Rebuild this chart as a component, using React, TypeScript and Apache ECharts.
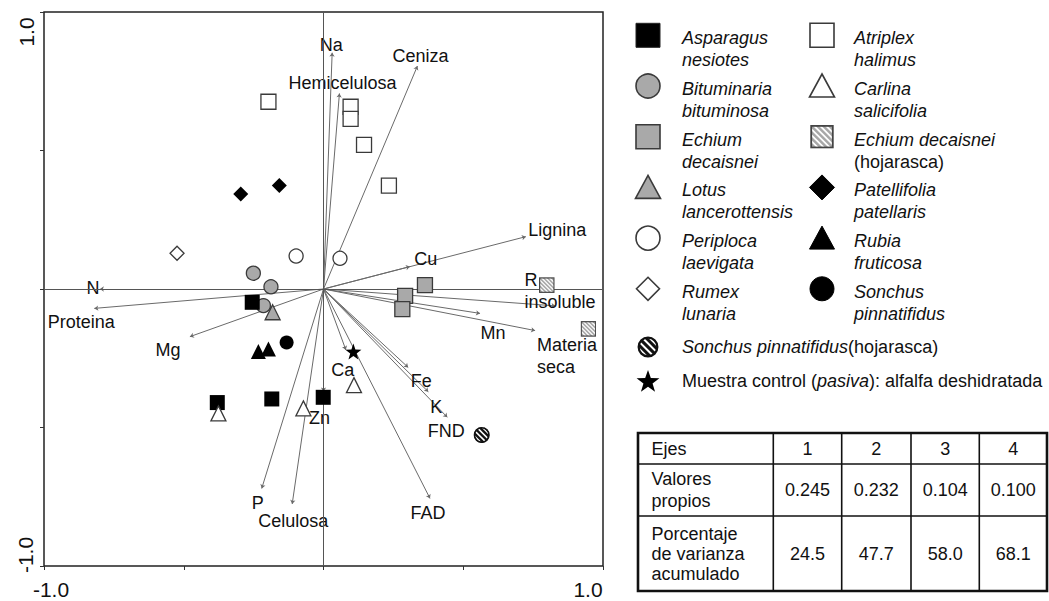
import React, { useEffect, useRef } from 'react';
import * as echarts from 'echarts';

const FONT = '"Liberation Sans", Arial, Helvetica, sans-serif';

// ---------- axis tick labels ----------
const xTickLabels = ['-1.0', '1.0'];
const yTickLabels = ['-1.0', '1.0'];

// ---------- environmental variables (arrow tips) ----------
const varNames = ['Na', 'Hemicelulosa', 'Ceniza', 'Lignina', 'Cu', 'R\ninsoluble', 'Mn', 'Materia\nseca', 'Fe', 'K', 'FND', 'FAD', 'Ca', 'Zn', 'P', 'Celulosa', 'Mg', 'Proteina', 'N'];
const varX = [0.031, 0.057, 0.336, 0.724, 0.309, 0.83, 0.56, 0.757, 0.303, 0.375, 0.443, 0.381, 0.08, 0.0, -0.221, -0.112, -0.478, -0.82, -0.8];
const varY = [0.853, 0.706, 0.805, 0.189, 0.081, -0.061, -0.088, -0.15, -0.283, -0.371, -0.463, -0.756, -0.22, -0.37, -0.72, -0.776, -0.172, -0.07, 0.0];

// ---------- samples (species scores) ----------
const asparagus = [[-0.255, -0.048], [-0.38, -0.41], [-0.185, -0.397], [-0.001, -0.391]];
const atriplex = [[-0.197, 0.676], [0.097, 0.658], [0.097, 0.614], [0.145, 0.52], [0.234, 0.373]];
const bituminaria = [[-0.251, 0.057], [-0.188, 0.008], [-0.215, -0.06]];
const carlina = [[-0.376, -0.449], [-0.072, -0.431], [0.109, -0.347]];
const echium = [[0.363, 0.014], [0.292, -0.025], [0.282, -0.073]];
const echiumHoj = [[0.799, 0.014], [0.948, -0.144]];
const lotus = [[-0.182, -0.084]];
const patellifolia = [[-0.296, 0.343], [-0.158, 0.374]];
const periploca = [[-0.098, 0.119], [0.059, 0.111]];
const rubia = [[-0.233, -0.226], [-0.197, -0.217]];
const rumex = [[-0.524, 0.129]];
const sonchus = [[-0.132, -0.193]];
const sonchusHoj = [[0.566, -0.527]];
const control = [[0.107, -0.226]];

// ---------- table ----------
const tableAxes = ['1', '2', '3', '4'];
const eigenvalues = ['0.245', '0.232', '0.104', '0.100'];
const cumVariance = ['24.5', '47.7', '58.0', '68.1'];

// ---------- layout of variable labels (pixel offsets from arrow tip) ----------
const labelLayout: Record<string, { off: number[]; align?: string }> = {
  'Na': { off: [-1, -8] },
  'Hemicelulosa': { off: [3, -10] },
  'Ceniza': { off: [3, -10] },
  'Lignina': { off: [31.5, -6.5] },
  'Cu': { off: [16, -8] },
  'R\ninsoluble': { off: [-31, -15], align: 'left' },
  'Mn': { off: [13, 20] },
  'Materia\nseca': { off: [2, 25], align: 'left' },
  'Fe': { off: [13, 14] },
  'K': { off: [8, 15] },
  'FND': { off: [-1, 14] },
  'FAD': { off: [-2, 15] },
  'Ca': { off: [-3, 20] },
  'Zn': { off: [-4, 27] },
  'P': { off: [-4, 15] },
  'Celulosa': { off: [1, 17] },
  'Mg': { off: [-22, 13] },
  'Proteina': { off: [-13, 14] },
  'N': { off: [-7, -1] },
};

function svgUrl(svg: string) {
  return 'data:image/svg+xml;charset=utf-8,' + encodeURIComponent(svg);
}

function hatchSquareSvg() {
  let lines = '';
  for (let k = -40; k <= 40; k += 10) lines += `<line x1="${k}" y1="0" x2="${k + 40}" y2="40"/>`;
  return `<svg xmlns="http://www.w3.org/2000/svg" width="40" height="40" viewBox="0 0 40 40"><defs><clipPath id="c"><rect x="2" y="2" width="36" height="36"/></clipPath></defs><rect x="2" y="2" width="36" height="36" fill="#fff"/><g clip-path="url(#c)" stroke="#a8a8a8" stroke-width="4">${lines}</g><rect x="2" y="2" width="36" height="36" fill="none" stroke="#444" stroke-width="3"/></svg>`;
}
function hatchCircleSvg() {
  let lines = '';
  for (let k = -26; k <= 26; k += 13) lines += `<line x1="${k}" y1="0" x2="${k + 40}" y2="40"/>`;
  return `<svg xmlns="http://www.w3.org/2000/svg" width="40" height="40" viewBox="0 0 40 40"><defs><clipPath id="c"><circle cx="20" cy="20" r="18"/></clipPath></defs><circle cx="20" cy="20" r="18" fill="#fff"/><g clip-path="url(#c)" stroke="#111" stroke-width="5.5">${lines}</g><circle cx="20" cy="20" r="17" fill="none" stroke="#111" stroke-width="4"/></svg>`;
}
const HATCH_SQ = svgUrl(hatchSquareSvg());
const HATCH_CI = svgUrl(hatchCircleSvg());

function starPts(cx: number, cy: number, R: number) {
  const r = R * 0.4;
  const pts: number[][] = [];
  for (let i = 0; i < 10; i++) {
    const a = -Math.PI / 2 + (i * Math.PI) / 5;
    const rr = i % 2 === 0 ? R : r;
    pts.push([cx + rr * Math.cos(a), cy + rr * Math.sin(a)]);
  }
  return pts;
}
const STAR_PATH = 'path://' + starPts(10, 10, 10).map((p, i) => (i === 0 ? 'M' : 'L') + p[0].toFixed(2) + ' ' + p[1].toFixed(2)).join(' ') + 'Z';

const GRAY = '#a9a9a9';
const EDGE = '#3a3a3a';

function species(name: string, data: number[][], symbol: string, color: string, border: string | null, size: number, z = 5) {
  return {
    type: 'scatter',
    name,
    data,
    symbol,
    symbolSize: size,
    silent: true,
    z,
    itemStyle: { color, borderColor: border || color, borderWidth: border ? 1.3 : 0, opacity: 1 },
  };
}

function legendSymbol(kind: string, cx: number, cy: number): any {
  const s = 12;
  switch (kind) {
    case 'sqBlack': return { type: 'rect', shape: { x: cx - s, y: cy - s, width: 2 * s, height: 2 * s }, style: { fill: '#000', stroke: '#222', lineWidth: 1 } };
    case 'sqWhite': return { type: 'rect', shape: { x: cx - s, y: cy - s, width: 2 * s, height: 2 * s }, style: { fill: '#fff', stroke: EDGE, lineWidth: 1.6 } };
    case 'sqGray': return { type: 'rect', shape: { x: cx - s, y: cy - s, width: 2 * s, height: 2 * s }, style: { fill: GRAY, stroke: EDGE, lineWidth: 1.6 } };
    case 'sqHatch': return { type: 'image', style: { image: HATCH_SQ, x: cx - s, y: cy - s, width: 2 * s, height: 2 * s } };
    case 'ciGray': return { type: 'circle', shape: { cx, cy, r: s }, style: { fill: GRAY, stroke: EDGE, lineWidth: 1.6 } };
    case 'ciWhite': return { type: 'circle', shape: { cx, cy, r: s }, style: { fill: '#fff', stroke: EDGE, lineWidth: 1.6 } };
    case 'ciBlack': return { type: 'circle', shape: { cx, cy, r: s }, style: { fill: '#000', stroke: '#000', lineWidth: 1 } };
    case 'ciHatch': return { type: 'image', style: { image: HATCH_CI, x: cx - 11, y: cy - 11, width: 22, height: 22 } };
    case 'trGray': return { type: 'polygon', shape: { points: [[cx, cy - 12], [cx + 12.5, cy + 11], [cx - 12.5, cy + 11]] }, style: { fill: GRAY, stroke: EDGE, lineWidth: 1.6 } };
    case 'trWhite': return { type: 'polygon', shape: { points: [[cx, cy - 12], [cx + 12.5, cy + 11], [cx - 12.5, cy + 11]] }, style: { fill: '#fff', stroke: EDGE, lineWidth: 1.6 } };
    case 'trBlack': return { type: 'polygon', shape: { points: [[cx, cy - 12], [cx + 12.5, cy + 11], [cx - 12.5, cy + 11]] }, style: { fill: '#000', stroke: '#000', lineWidth: 1 } };
    case 'diBlack': return { type: 'polygon', shape: { points: [[cx, cy - 12.5], [cx + 12.5, cy], [cx, cy + 12.5], [cx - 12.5, cy]] }, style: { fill: '#000', stroke: '#000', lineWidth: 1 } };
    case 'diWhite': return { type: 'polygon', shape: { points: [[cx, cy - 11.5], [cx + 11.5, cy], [cx, cy + 11.5], [cx - 11.5, cy]] }, style: { fill: '#fff', stroke: EDGE, lineWidth: 1.6 } };
    case 'star': return { type: 'polygon', shape: { points: starPts(cx, cy + 1, 12) }, style: { fill: '#000' } };
  }
  return { type: 'group' };
}

// legend entries (two columns)
const legendCol1 = [
  { sym: 'sqBlack', text: '{i|Asparagus}\n{i|nesiotes}' },
  { sym: 'ciGray', text: '{i|Bituminaria}\n{i|bituminosa}' },
  { sym: 'sqGray', text: '{i|Echium}\n{i|decaisnei}' },
  { sym: 'trGray', text: '{i|Lotus}\n{i|lancerottensis}' },
  { sym: 'ciWhite', text: '{i|Periploca}\n{i|laevigata}' },
  { sym: 'diWhite', text: '{i|Rumex}\n{i|lunaria}' },
];
const legendCol2 = [
  { sym: 'sqWhite', text: '{i|Atriplex}\n{i|halimus}' },
  { sym: 'trWhite', text: '{i|Carlina}\n{i|salicifolia}' },
  { sym: 'sqHatch', text: '{i|Echium decaisnei}\n{n|(hojarasca)}' },
  { sym: 'diBlack', text: '{i|Patellifolia}\n{i|patellaris}' },
  { sym: 'trBlack', text: '{i|Rubia}\n{i|fruticosa}' },
  { sym: 'ciBlack', text: '{i|Sonchus}\n{i|pinnatifidus}' },
];
const legendWide = [
  { sym: 'ciHatch', text: '{i|Sonchus pinnatifidus}{n|(hojarasca)}' },
  { sym: 'star', text: '{n|Muestra control (}{i|pasiva}{n|): alfalfa deshidratada}' },
];

const RICH = {
  i: { fontStyle: 'italic', fontSize: 18, fontFamily: FONT, fill: '#111', lineHeight: 22 },
  n: { fontStyle: 'normal', fontSize: 18, fontFamily: FONT, fill: '#111', lineHeight: 22 },
};

function buildGraphic() {
  const g: any[] = [];
  // axis end labels
  const tf = `21px ${FONT}`;
  g.push({ type: 'text', x: 51, y: 589, style: { text: xTickLabels[0], font: tf, fill: '#111', align: 'center', verticalAlign: 'middle' } });
  g.push({ type: 'text', x: 588, y: 589, style: { text: xTickLabels[1], font: tf, fill: '#111', align: 'center', verticalAlign: 'middle' } });
  g.push({ type: 'text', x: 25, y: 555, rotation: Math.PI / 2, style: { text: yTickLabels[0], font: tf, fill: '#111', align: 'center', verticalAlign: 'middle' } });
  g.push({ type: 'text', x: 26, y: 32, rotation: Math.PI / 2, style: { text: yTickLabels[1], font: tf, fill: '#111', align: 'center', verticalAlign: 'middle' } });

  // legend
  const cols = [{ list: legendCol1, sx: 648, tx: 682 }, { list: legendCol2, sx: 822, tx: 854 }];
  cols.forEach((c) => {
    c.list.forEach((e, i) => {
      const firstLine = 38.3 + 50.7 * i;
      g.push(legendSymbol(e.sym, c.sx, firstLine - 3));
      g.push({ type: 'text', x: c.tx, y: firstLine + 11, style: { text: e.text, rich: RICH, align: 'left', verticalAlign: 'middle', font: `18px ${FONT}`, fill: '#111' } });
    });
  });
  const wideY = [347, 381];
  legendWide.forEach((e, i) => {
    g.push(legendSymbol(e.sym, 648, wideY[i]));
    g.push({ type: 'text', x: 682, y: wideY[i], style: { text: e.text, rich: RICH, align: 'left', verticalAlign: 'middle', font: `18px ${FONT}`, fill: '#111' } });
  });

  // table
  const rowsY = [433, 464, 516, 591];
  const colsX = [638, 773.3, 841.7, 911, 979.3, 1047];
  for (let r = 1; r < rowsY.length - 1; r++) {
    g.push({ type: 'line', shape: { x1: colsX[0], y1: rowsY[r], x2: colsX[colsX.length - 1], y2: rowsY[r] }, style: { stroke: '#111', lineWidth: 1.6 } });
  }
  for (let c = 1; c < colsX.length - 1; c++) {
    g.push({ type: 'line', shape: { x1: colsX[c], y1: rowsY[0], x2: colsX[c], y2: rowsY[rowsY.length - 1] }, style: { stroke: '#111', lineWidth: 1.6 } });
  }
  g.push({ type: 'rect', shape: { x: colsX[0], y: rowsY[0], width: colsX[5] - colsX[0], height: rowsY[3] - rowsY[0] }, style: { fill: 'none', stroke: '#111', lineWidth: 2.6 } });
  const rowMid = [449, 490, 554];
  const rowHeads = ['Ejes', 'Valores\npropios', 'Porcentaje\nde varianza\nacumulado'];
  const rowLH = [22, 22, 20];
  const rowVals = [tableAxes, eigenvalues, cumVariance];
  rowHeads.forEach((h, r) => {
    g.push({ type: 'text', x: 651.5, y: rowMid[r], style: { text: h, font: `18px ${FONT}`, fill: '#111', align: 'left', verticalAlign: 'middle', lineHeight: rowLH[r] } });
    rowVals[r].forEach((v, c) => {
      g.push({ type: 'text', x: (colsX[c + 1] + colsX[c + 2]) / 2, y: rowMid[r], style: { text: v, font: `18px ${FONT}`, fill: '#111', align: 'center', verticalAlign: 'middle' } });
    });
  });
  return g;
}

export default function App() {
  const ref = useRef<HTMLDivElement>(null);
  useEffect(() => {
    if (!ref.current) return;
    const chart = echarts.init(ref.current, undefined, { renderer: 'svg' });
    const axisCommon = {
      type: 'value',
      min: -1,
      max: 1,
      interval: 0.5,
      axisLine: { show: false, onZero: false },
      axisTick: { show: true, length: 4, lineStyle: { color: '#333', width: 1 } },
      axisLabel: { show: false },
      splitLine: { show: false },
    };
    const option: any = {
      animation: false,
      grid: { left: 44, top: 12, width: 559, height: 554, show: true, borderColor: '#222', borderWidth: 1.5, backgroundColor: 'transparent' },
      xAxis: { ...axisCommon },
      yAxis: { ...axisCommon },
      series: [
        {
          type: 'lines',
          coordinateSystem: 'cartesian2d',
          silent: true,
          z: 2,
          symbol: ['none', 'arrow'],
          symbolSize: 4,
          lineStyle: { color: '#6a6a6a', width: 1, opacity: 1, curveness: 0 },
          data: varNames.map((n, i) => ({ coords: [[0, 0], [varX[i], varY[i]]] })),
        },
        {
          type: 'scatter',
          silent: true,
          z: 3,
          symbol: 'circle',
          symbolSize: 1,
          itemStyle: { color: 'rgba(0,0,0,0)', opacity: 1 },
          label: {
            show: true,
            position: 'inside',
            formatter: (p: any) => p.name,
            fontSize: 18,
            fontFamily: FONT,
            color: '#111',
            opacity: 1,
            lineHeight: 22,
          },
          data: varNames.map((n, i) => ({
            name: n,
            value: [varX[i], varY[i]],
            label: { offset: labelLayout[n].off, align: labelLayout[n].align || 'center' },
          })),
          markLine: {
            silent: true,
            symbol: 'none',
            label: { show: false },
            lineStyle: { color: '#555', width: 1, type: 'solid' },
            data: [{ xAxis: 0 }, { yAxis: 0 }],
          },
        },
        species('Bituminaria bituminosa', bituminaria, 'circle', GRAY, EDGE, 14),
        species('Asparagus nesiotes', asparagus, 'rect', '#000', null, 15),
        species('Lotus lancerottensis', lotus, 'triangle', GRAY, EDGE, 15),
        species('Atriplex halimus', atriplex, 'rect', '#fff', EDGE, 15),
        species('Carlina salicifolia', carlina, 'triangle', '#fff', EDGE, 15),
        species('Echium decaisnei', echium, 'rect', GRAY, EDGE, 15),
        species('Echium decaisnei (hojarasca)', echiumHoj, 'image://' + HATCH_SQ, '#fff', null, 16),
        species('Patellifolia patellaris', patellifolia, 'diamond', '#000', null, 15),
        species('Periploca laevigata', periploca, 'circle', '#fff', EDGE, 14),
        species('Rubia fruticosa', rubia, 'triangle', '#000', null, 15),
        species('Rumex lunaria', rumex, 'diamond', '#fff', EDGE, 14),
        species('Sonchus pinnatifidus', sonchus, 'circle', '#000', null, 14),
        species('Sonchus pinnatifidus (hojarasca)', sonchusHoj, 'image://' + HATCH_CI, '#fff', null, 17),
        species('Muestra control', control, STAR_PATH, '#000', null, 16, 6),
      ],
      graphic: buildGraphic(),
    };
    chart.setOption(option);
    return () => chart.dispose();
  }, []);
  return <div ref={ref} style={{ position: 'fixed', left: 0, top: 0, width: 1049, height: 601, background: '#fff' }} />;
}
